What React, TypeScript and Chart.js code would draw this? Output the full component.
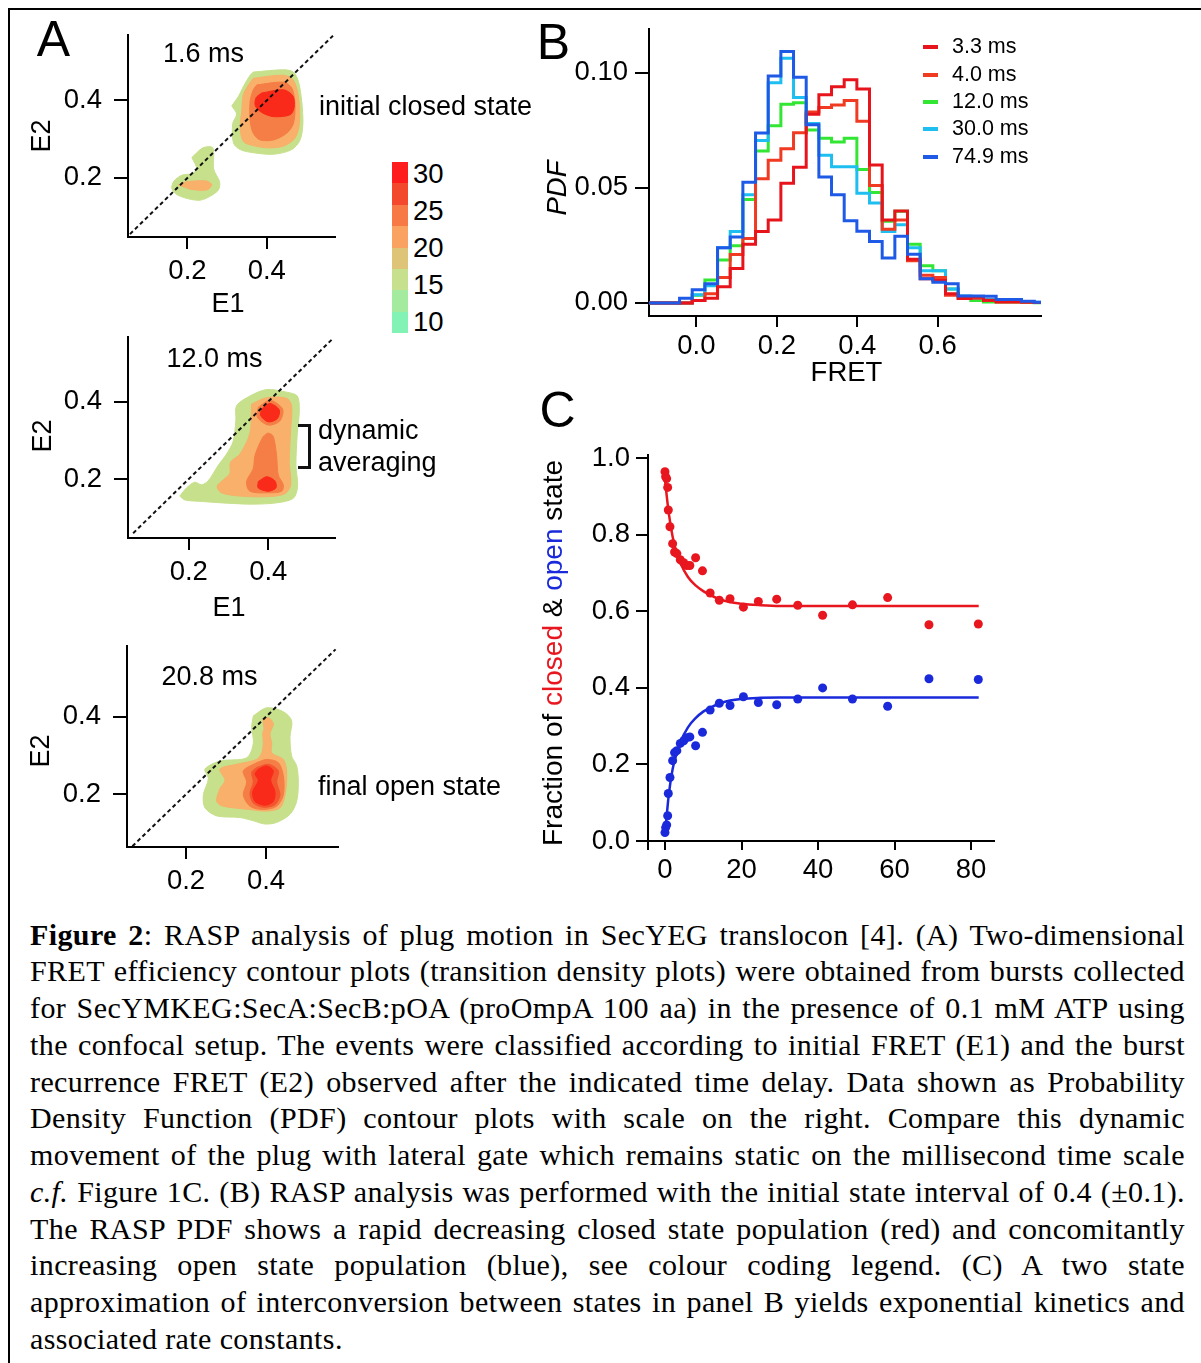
import React, { useEffect, useRef } from "react";
import { Chart, registerables } from "chart.js";
Chart.register(...registerables);

const SANS = "'Liberation Sans', Arial, Helvetica, sans-serif";
const SERIF = "'Liberation Serif', 'Times New Roman', Times, serif";
const FS = 27.5;

// ---------------- Panel A : contour polygons (E1, E2) ----------------
const A_TICKS = [0.2, 0.4];

const A1_X_RANGE = [0.05, 0.572];
const A1_Y_RANGE = [0.0475, 0.57];
const A1_DIAG = [[0.055, 0.055], [0.567, 0.567]];
const A1_GREEN_MAIN = [[0.366,0.473],[0.442,0.479],[0.467,0.473],[0.48,0.448],[0.488,0.398],[0.491,0.34],[0.484,0.298],[0.463,0.273],[0.417,0.261],[0.366,0.265],[0.333,0.273],[0.316,0.29],[0.314,0.34],[0.324,0.365],[0.312,0.386],[0.316,0.392],[0.329,0.411],[0.341,0.436],[0.358,0.465]];
const A1_GREEN_SMALL = [[0.211,0.2525],[0.239,0.2775],[0.264,0.2775],[0.266,0.223],[0.281,0.19],[0.278,0.169],[0.257,0.1525],[0.232,0.1425],[0.2025,0.146],[0.173,0.157],[0.1605,0.173],[0.166,0.192],[0.186,0.207],[0.211,0.211],[0.2235,0.223]];
const A1_LORANGE_SMALL = [[0.177,0.182],[0.198,0.19],[0.249,0.192],[0.261,0.182],[0.249,0.169],[0.207,0.171]];
const A1_LORANGE = [[0.366,0.457],[0.442,0.465],[0.467,0.4525],[0.48,0.407],[0.482,0.34],[0.471,0.3025],[0.442,0.282],[0.404,0.2775],[0.371,0.282],[0.341,0.294],[0.333,0.332],[0.337,0.373],[0.341,0.415],[0.354,0.44]];
const A1_ORANGE = [[0.375,0.44],[0.442,0.447],[0.463,0.432],[0.471,0.39],[0.467,0.34],[0.45,0.315],[0.417,0.298],[0.383,0.298],[0.366,0.315],[0.358,0.348],[0.358,0.398],[0.366,0.4275]];
const A1_RED = [[0.387,0.419],[0.442,0.4275],[0.466,0.411],[0.469,0.382],[0.459,0.363],[0.417,0.358],[0.387,0.369],[0.371,0.386],[0.373,0.407]];

const A2_X_RANGE = [0.047, 0.568];
const A2_Y_RANGE = [0.0475, 0.568];
const A2_DIAG = [[0.06, 0.06], [0.562, 0.562]];
const A2_GREEN = [[0.1773,0.1558],[0.1941,0.1767],[0.2151,0.1917],[0.2319,0.185],[0.2487,0.195],[0.2739,0.235],[0.295,0.2642],[0.3118,0.2975],[0.3185,0.3517],[0.3202,0.3892],[0.3538,0.4142],[0.3958,0.4308],[0.4462,0.4242],[0.4731,0.4142],[0.4782,0.3767],[0.4731,0.3183],[0.4697,0.235],[0.474,0.1808],[0.463,0.15],[0.421,0.1383],[0.3622,0.135],[0.295,0.1375],[0.2361,0.1417],[0.1899,0.1458]];
const A2_LORANGE = [[0.358,0.3933],[0.3958,0.41],[0.4462,0.4083],[0.4588,0.3892],[0.4563,0.3267],[0.4529,0.2433],[0.4563,0.185],[0.442,0.1617],[0.3958,0.1542],[0.3286,0.1558],[0.2824,0.1642],[0.2714,0.1808],[0.2866,0.1975],[0.3034,0.2142],[0.305,0.2433],[0.3286,0.2642],[0.3538,0.3183]];
const A2_ORANGE = [[0.3874,0.31],[0.4,0.3183],[0.4126,0.31],[0.421,0.26],[0.4252,0.21],[0.4378,0.185],[0.4336,0.1683],[0.3958,0.1642],[0.3538,0.1683],[0.3454,0.1933],[0.3622,0.2267],[0.3664,0.26],[0.379,0.2933]];
const A2_ORANGE_TOP = [[0.3748,0.385],[0.4042,0.4033],[0.4361,0.3808],[0.4294,0.35],[0.4,0.3392],[0.3723,0.36]];
const A2_RED_TOP = [[0.3832,0.3808],[0.4042,0.395],[0.4277,0.3783],[0.4227,0.3558],[0.4,0.3475],[0.3807,0.3642]];
const A2_RED_BOTTOM = [[0.3748,0.1933],[0.3958,0.2058],[0.4168,0.195],[0.4193,0.1767],[0.4,0.1683],[0.3748,0.1767]];

const A3_X_RANGE = [0.0525, 0.58];
const A3_Y_RANGE = [0.064, 0.584];
const A3_DIAG = [[0.066, 0.066], [0.574, 0.574]];
const A3_GREEN = [[0.3683,0.4025],[0.4017,0.4233],[0.4433,0.4133],[0.4642,0.39],[0.46,0.3483],[0.4642,0.2983],[0.4767,0.2733],[0.4808,0.2317],[0.4767,0.1817],[0.46,0.1483],[0.4267,0.1275],[0.3975,0.1233],[0.3683,0.1317],[0.335,0.14],[0.2767,0.1442],[0.2475,0.165],[0.2433,0.1983],[0.2558,0.24],[0.2475,0.265],[0.285,0.2858],[0.3517,0.2942],[0.3683,0.3317],[0.3642,0.3733]];
const A3_LORANGE = [[0.3917,0.3942],[0.4058,0.3983],[0.4183,0.3817],[0.41,0.3567],[0.4142,0.3317],[0.4142,0.3067],[0.4433,0.29],[0.4517,0.2567],[0.4475,0.1983],[0.435,0.165],[0.4017,0.1567],[0.36,0.1608],[0.2933,0.1692],[0.2767,0.1817],[0.285,0.215],[0.2975,0.2358],[0.285,0.265],[0.3267,0.2775],[0.3767,0.29],[0.3892,0.3067],[0.3933,0.3317],[0.3917,0.3567],[0.395,0.3692]];
const A3_ORANGE = [[0.3767,0.2817],[0.4017,0.29],[0.4308,0.2817],[0.4433,0.2483],[0.4433,0.1983],[0.4267,0.1692],[0.3933,0.1608],[0.36,0.1692],[0.3433,0.1983],[0.3517,0.2317],[0.3433,0.2608]];
const A3_DORANGE = [[0.3767,0.2692],[0.4058,0.2775],[0.4308,0.2608],[0.4267,0.2317],[0.435,0.1983],[0.4225,0.1733],[0.3933,0.1667],[0.3683,0.1775],[0.36,0.2025],[0.3683,0.2317],[0.3642,0.2567]];
const A3_RED = [[0.3808,0.265],[0.4017,0.2733],[0.4183,0.2608],[0.4117,0.2358],[0.4225,0.2067],[0.4183,0.1817],[0.3975,0.1717],[0.3725,0.1817],[0.3667,0.2067],[0.3808,0.2358],[0.3725,0.2525]];

const COLORBAR_LABELS = ["30", "25", "20", "15", "10"];

// ---------------- Panel B : RASP PDF histograms ----------------
const FRET_BIN_START = -0.1365;
const FRET_BIN_WIDTH = 0.0315;
const B_X_TICKS = [0, 0.2, 0.4, 0.6];
const B_Y_TICKS = [0, 0.05, 0.1];
const SERIES_LABELS = ["3.3 ms", "4.0 ms", "12.0 ms", "30.0 ms", "74.9 ms"];
const PDF_3_3 = [0,0,0,0,0.001,0.002,0.007,0.015,0.0255,0.031,0.036,0.052,0.059,0.082,0.0905,0.094,0.097,0.093,0.06,0.036,0.04,0.019,0.0105,0.0097,0.004,0.0019,0.0026,0.0011,0.0004,0.0004,0.0004,0.0002];
const PDF_4_0 = [0,0,0,0,0.001,0.004,0.011,0.021,0.028,0.054,0.062,0.067,0.074,0.083,0.085,0.086,0.088,0.079,0.051,0.032,0.036,0.0183,0.012,0.011,0.0033,0.0019,0.002,0.001,0.0005,0.0005,0.0003,0.0002];
const PDF_12_0 = [0,0,0,0,0.0033,0.01,0.0186,0.0248,0.045,0.066,0.077,0.0864,0.087,0.0752,0.0716,0.0699,0.0716,0.058,0.048,0.0355,0.0398,0.0255,0.0162,0.014,0.006,0.0026,0.001,0.0004,0.0004,0.0004,0.0002,0.0001];
const PDF_30_0 = [0,0,0,0,0.0035,0.0075,0.024,0.031,0.047,0.0706,0.0957,0.1064,0.0893,0.078,0.0642,0.0592,0.0592,0.0477,0.0434,0.031,0.034,0.024,0.014,0.014,0.006,0.003,0.002,0.0015,0.001,0.0008,0.0005,0.0003];
const PDF_74_9 = [0,0,0,0.002,0.0057,0.0083,0.024,0.0287,0.0524,0.0739,0.0986,0.1093,0.0981,0.0775,0.0547,0.047,0.0357,0.0312,0.0267,0.0195,0.029,0.0212,0.0105,0.009,0.0083,0.003,0.003,0.0029,0.0015,0.0015,0.0007,0.0003];

// ---------------- Panel C : fractions vs delay time ----------------
const C_X_TICKS = [0, 20, 40, 60, 80];
const C_Y_TICKS = [0, 0.2, 0.4, 0.6, 0.8, 1.0];
const DELAY_MS = [0,0.17,0.44,0.7,0.87,1.3,2.0,2.5,3.1,4.0,4.9,5.7,6.5,8.0,9.8,11.8,14.2,17.0,20.5,24.4,29.2,34.7,41.2,49.0,58.2,69.0,81.9];
const CLOSED_FRACTION = [0.965,0.952,0.947,0.924,0.865,0.821,0.777,0.755,0.751,0.735,0.727,0.72,0.72,0.74,0.706,0.648,0.629,0.633,0.611,0.626,0.632,0.616,0.59,0.617,0.636,0.565,0.567];
const OPEN_FRACTION = [0.022,0.035,0.042,0.066,0.124,0.166,0.21,0.231,0.236,0.255,0.262,0.27,0.272,0.249,0.284,0.342,0.36,0.354,0.377,0.362,0.356,0.371,0.4,0.371,0.352,0.424,0.422];
const FIT_T = [0,1,2,3,4,6,8,10,12,15,20,25,30,82];
const FIT_CLOSED = [0.943,0.856,0.795,0.755,0.727,0.69,0.668,0.653,0.642,0.629,0.62,0.616,0.614,0.614];
const FIT_OPEN = [0.017,0.122,0.188,0.227,0.258,0.297,0.321,0.338,0.349,0.362,0.371,0.374,0.375,0.375];

// ---------------- styles ----------------
const COL = {
  green: "#C6E08B", lorange: "#F8B06A", orange: "#F57E46", dorange: "#F4552E", red: "#F92A1A",
};
const COLORBAR_COLORS = ["#FF1C1C", "#F4482C", "#F77A46", "#F9A262", "#DDC476", "#C6E08E", "#A4EB9F", "#82F2B5"];
const SERIES_COLORS = ["#E8141C", "#F03A22", "#33E633", "#1EBEF0", "#1E5AE6"];
const SERIES_ORDER = [1, 2, 4, 3, 0];
const C_RED = "#E8161E";
const C_BLUE = "#1A2ADB";

type Frame = { x: number; y: number; w: number; h: number; yW: number; xH: number; padT: number; padR: number };
function frame(L: number, T: number, R: number, B: number, yW = 100, xH = 55, padT = 22, padR = 22): Frame {
  return { x: L - yW, y: T - padT, w: R - L + yW + padR, h: B - T + padT + xH, yW, xH, padT, padR };
}

function axis(range: number[], ticks: number[], dec: number, tickLen: number, pad: number) {
  return {
    type: "linear",
    min: range[0],
    max: range[1],
    afterBuildTicks: (s: any) => { s.ticks = ticks.map((v) => ({ value: v })); },
    ticks: { font: { family: SANS, size: FS }, color: "#000", padding: pad, callback: (v: any) => Number(v).toFixed(dec) },
    grid: { display: true, drawOnChartArea: false, drawTicks: true, tickLength: tickLen, color: "#000", lineWidth: 2 },
    border: { display: true, color: "#000", width: 2 },
  };
}

function baseOptions(f: Frame, xs: any, ys: any) {
  return {
    responsive: false,
    maintainAspectRatio: false,
    animation: false,
    events: [],
    layout: { autoPadding: false, padding: { top: f.padT, right: f.padR, left: 0, bottom: 0 } },
    plugins: { legend: { display: false }, tooltip: { enabled: false }, title: { display: false } },
    scales: {
      x: { ...xs, afterFit: (s: any) => { s.height = f.xH; } },
      y: { ...ys, afterFit: (s: any) => { s.width = f.yW; } },
    },
  };
}

type Level = { pts: number[][]; color: string };

function contourConfig(f: Frame, levels: Level[], diag: number[][], xr: number[], yr: number[]) {
  const datasets: any[] = [
    {
      data: diag.map(([x, y]) => ({ x, y })),
      showLine: true, borderColor: "#111", borderWidth: 2, borderDash: [4, 3], pointRadius: 0, fill: false, order: 0,
    },
  ];
  levels.forEach((lv, i) => {
    const pts = lv.pts.concat([lv.pts[0]]);
    datasets.push({
      data: pts.map(([x, y]) => ({ x, y })),
      showLine: true, borderColor: lv.color, backgroundColor: lv.color, borderWidth: 1,
      pointRadius: 0, fill: "shape", tension: 0.3, order: 100 - i,
    });
  });
  return {
    type: "scatter",
    data: { datasets },
    options: baseOptions(f, axis(xr, A_TICKS, 1, 12, 6), axis(yr, A_TICKS, 1, 14, 12)),
  };
}

const F_A1 = frame(128, 28, 335, 237);
const F_A2 = frame(128, 330, 335, 538);
const F_A3 = frame(127, 639, 338, 847);
const F_B = frame(649, 25, 1041, 316, 100, 50, 20, 22);
const F_C = frame(648, 455, 994, 841, 100, 50, 30, 22);

const A1_LEVELS: Level[] = [
  { pts: A1_GREEN_MAIN, color: COL.green }, { pts: A1_GREEN_SMALL, color: COL.green },
  { pts: A1_LORANGE_SMALL, color: COL.lorange }, { pts: A1_LORANGE, color: COL.lorange },
  { pts: A1_ORANGE, color: COL.orange }, { pts: A1_RED, color: COL.red },
];
const A2_LEVELS: Level[] = [
  { pts: A2_GREEN, color: COL.green }, { pts: A2_LORANGE, color: COL.lorange },
  { pts: A2_ORANGE, color: COL.orange }, { pts: A2_ORANGE_TOP, color: COL.orange },
  { pts: A2_RED_TOP, color: COL.red }, { pts: A2_RED_BOTTOM, color: COL.red },
];
const A3_LEVELS: Level[] = [
  { pts: A3_GREEN, color: COL.green }, { pts: A3_LORANGE, color: COL.lorange },
  { pts: A3_ORANGE, color: COL.orange }, { pts: A3_DORANGE, color: COL.dorange }, { pts: A3_RED, color: COL.red },
];

function histConfig() {
  const series = [PDF_3_3, PDF_4_0, PDF_12_0, PDF_30_0, PDF_74_9];
  const datasets = series.map((vals, si) => {
    const pts = vals.map((v, i) => ({ x: FRET_BIN_START + i * FRET_BIN_WIDTH, y: v }));
    pts.push({ x: FRET_BIN_START + vals.length * FRET_BIN_WIDTH, y: vals[vals.length - 1] });
    return {
      label: SERIES_LABELS[si], data: pts, showLine: true, stepped: true,
      borderColor: SERIES_COLORS[si], borderWidth: 3, borderJoinStyle: "miter", pointRadius: 0, fill: false,
      order: SERIES_ORDER[si],
    };
  });
  return {
    type: "scatter",
    data: { datasets },
    options: baseOptions(F_B, axis([-0.118, 0.857], B_X_TICKS, 1, 11, 3), axis([-0.0057, 0.1193], B_Y_TICKS, 2, 14, 7)),
  };
}

const yAxisExtension = {
  id: "yAxisExtension",
  afterDraw(chart: any) {
    const { ctx, chartArea } = chart;
    ctx.save();
    ctx.strokeStyle = "#000";
    ctx.lineWidth = 2;
    ctx.beginPath();
    ctx.moveTo(chartArea.left, chartArea.bottom);
    ctx.lineTo(chartArea.left, chartArea.bottom + 9);
    ctx.stroke();
    ctx.restore();
  },
};

function fractionConfig() {
  const pts = (ys: number[]) => DELAY_MS.map((x, i) => ({ x, y: ys[i] }));
  const fit = (ys: number[]) => FIT_T.map((x, i) => ({ x, y: ys[i] }));
  const datasets = [
    { data: fit(FIT_CLOSED), showLine: true, borderColor: C_RED, borderWidth: 2.5, pointRadius: 0, cubicInterpolationMode: "monotone", fill: false, order: 2 },
    { data: fit(FIT_OPEN), showLine: true, borderColor: C_BLUE, borderWidth: 2.5, pointRadius: 0, cubicInterpolationMode: "monotone", fill: false, order: 2 },
    { data: pts(CLOSED_FRACTION), showLine: false, pointRadius: 4.5, pointBorderWidth: 0, backgroundColor: C_RED, borderColor: C_RED, order: 1 },
    { data: pts(OPEN_FRACTION), showLine: false, pointRadius: 4.5, pointBorderWidth: 0, backgroundColor: C_BLUE, borderColor: C_BLUE, order: 1 },
  ];
  const xs = axis([-4.44, 86], C_X_TICKS, 0, 9, 4);
  const ys = axis([0, 1.0086], C_Y_TICKS, 1, 12, 6);
  return {
    type: "scatter",
    data: { datasets },
    options: baseOptions(F_C, xs, ys),
    plugins: [yAxisExtension],
  };
}

function ChartBox({ f, make }: { f: Frame; make: () => any }) {
  const ref = useRef<HTMLCanvasElement | null>(null);
  useEffect(() => {
    const c = new Chart(ref.current as HTMLCanvasElement, make());
    return () => c.destroy();
  }, []);
  return (
    <canvas ref={ref} width={f.w} height={f.h}
      style={{ position: "absolute", left: f.x, top: f.y, width: f.w, height: f.h }} />
  );
}

function Txt({ x, y, children, size = 27, align = "left", rotate = false, style = {} }: any) {
  let transform = "translateY(-50%)";
  if (align === "center") transform = "translate(-50%,-50%)";
  if (rotate) transform = "translate(-50%,-50%) rotate(-90deg)";
  return (
    <div style={{ position: "absolute", left: x, top: y, transform, fontFamily: SANS, fontSize: size, lineHeight: 1, whiteSpace: "nowrap", color: "#000", ...style }}>
      {children}
    </div>
  );
}

const CAPTION_LINES: React.ReactNode[] = [
  <><b>Figure 2</b>: RASP analysis of plug motion in SecYEG translocon [4]. (A) Two-dimensional</>,
  "FRET efficiency contour plots (transition density plots) were obtained from bursts collected",
  "for SecYMKEG:SecA:SecB:pOA (proOmpA 100 aa) in the presence of 0.1 mM ATP using",
  "the confocal setup. The events were classified according to initial FRET (E1) and the burst",
  "recurrence FRET (E2) observed after the indicated time delay. Data shown as Probability",
  "Density Function (PDF) contour plots with scale on the right. Compare this dynamic",
  "movement of the plug with lateral gate which remains static on the millisecond time scale",
  <><i>c.f.</i> Figure 1C. (B) RASP analysis was performed with the initial state interval of 0.4 (±0.1).</>,
  "The RASP PDF shows a rapid decreasing closed state population (red) and concomitantly",
  "increasing open state population (blue), see colour coding legend. (C) A two state",
  "approximation of interconversion between states in panel B yields exponential kinetics and",
  "associated rate constants.",
];

export default function App() {
  return (
    <div style={{ position: "absolute", left: 0, top: 0, width: 1201, height: 1363, overflow: "hidden", background: "#fff" }}>
      <div style={{ position: "absolute", left: 8, top: 8, width: 1400, height: 1500, borderTop: "2px solid #000", borderLeft: "2px solid #000" }} />

      {/* Panel A */}
      <ChartBox f={F_A1} make={() => contourConfig(F_A1, A1_LEVELS, A1_DIAG, A1_X_RANGE, A1_Y_RANGE)} />
      <ChartBox f={F_A2} make={() => contourConfig(F_A2, A2_LEVELS, A2_DIAG, A2_X_RANGE, A2_Y_RANGE)} />
      <ChartBox f={F_A3} make={() => contourConfig(F_A3, A3_LEVELS, A3_DIAG, A3_X_RANGE, A3_Y_RANGE)} />

      <Txt x={53.5} y={39} size={50} align="center">A</Txt>
      <Txt x={163} y={53}>1.6 ms</Txt>
      <Txt x={319} y={106}>initial closed state</Txt>
      <Txt x={228} y={302.5} align="center">E1</Txt>
      <Txt x={41} y={136} rotate>E2</Txt>

      <Txt x={166.5} y={358}>12.0 ms</Txt>
      <div style={{ position: "absolute", left: 298, top: 424, width: 13, height: 45, boxSizing: "border-box", borderTop: "3px solid #111", borderRight: "3px solid #111", borderBottom: "3px solid #111" }} />
      <Txt x={318} y={430}>dynamic</Txt>
      <Txt x={318} y={462}>averaging</Txt>
      <Txt x={229} y={606.5} align="center">E1</Txt>
      <Txt x={41.5} y={436} rotate>E2</Txt>

      <Txt x={161.5} y={676}>20.8 ms</Txt>
      <Txt x={318} y={785.5}>final open state</Txt>
      <Txt x={39.5} y={751} rotate>E2</Txt>

      {/* colour bar */}
      {COLORBAR_COLORS.map((c, i) => (
        <div key={c} style={{ position: "absolute", left: 392, top: 162 + i * 21.375, width: 16, height: 21.5, background: c }} />
      ))}
      {COLORBAR_LABELS.map((t, i) => (
        <Txt key={t} x={413} y={174 + i * 37} size={FS}>{t}</Txt>
      ))}

      {/* Panel B */}
      <ChartBox f={F_B} make={histConfig} />
      <Txt x={553.5} y={42} size={50} align="center">B</Txt>
      <Txt x={557} y={187.5} size={FS} rotate style={{ fontStyle: "italic" }}>PDF</Txt>
      <Txt x={846.5} y={372} size={FS} align="center">FRET</Txt>
      {SERIES_LABELS.map((s, i) => (
        <React.Fragment key={s}>
          <div style={{ position: "absolute", left: 923, top: 45.3 + i * 27.35, width: 15, height: 4, background: SERIES_COLORS[i] }} />
          <Txt x={952} y={47.3 + i * 27.35} size={21.5}>{s}</Txt>
        </React.Fragment>
      ))}

      {/* Panel C */}
      <ChartBox f={F_C} make={fractionConfig} />
      <Txt x={557.5} y={410} size={50} align="center">C</Txt>
      <Txt x={553} y={652.5} size={28} rotate>
        Fraction of <span style={{ color: C_RED }}>closed</span> &amp; <span style={{ color: C_BLUE }}>open</span> state
      </Txt>

      {/* Caption */}
      <div style={{ position: "absolute", left: 30, top: 916.5, width: 1155, fontFamily: SERIF, fontSize: 30, letterSpacing: "0.4px", color: "#000" }}>
        {CAPTION_LINES.map((ln, i) => (
          <div key={i} style={{ height: 36.75, lineHeight: "36.75px", textAlign: "justify", textAlignLast: i === CAPTION_LINES.length - 1 ? "left" : "justify", whiteSpace: "normal" }}>
            {ln}
          </div>
        ))}
      </div>
    </div>
  );
}
